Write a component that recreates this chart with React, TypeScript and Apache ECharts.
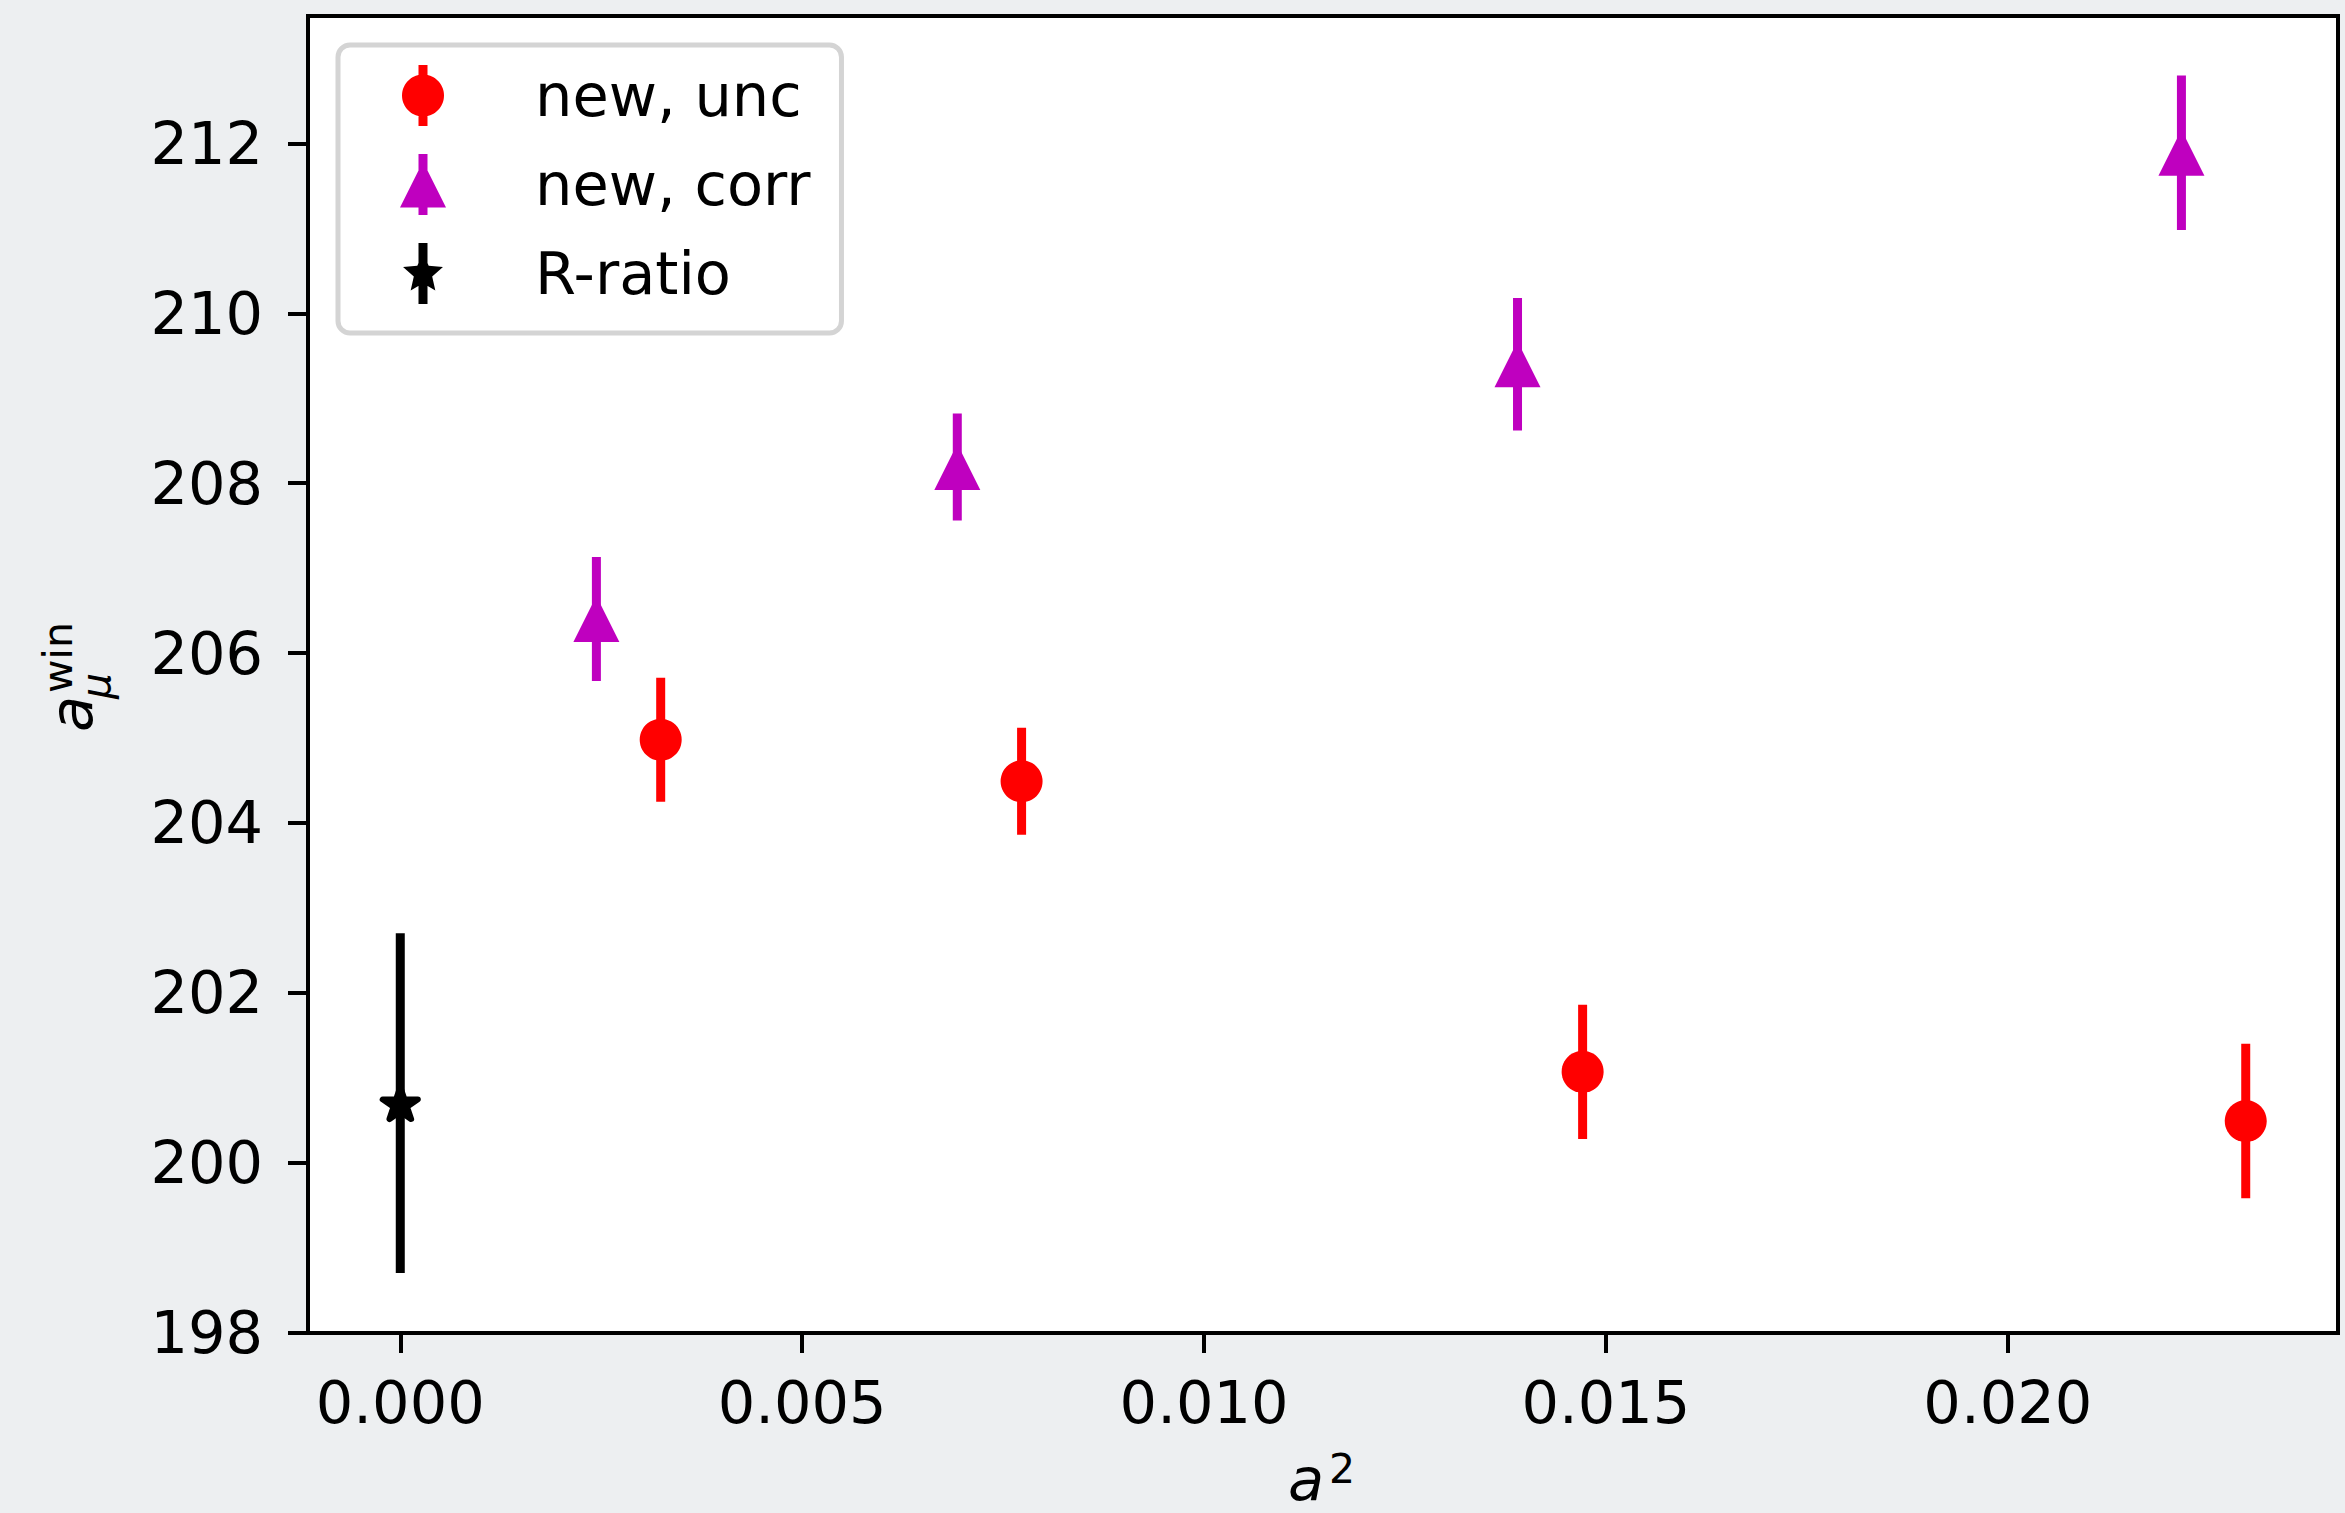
import { useEffect, useRef } from 'react';
import * as echarts from 'echarts';

// ---- data ----
const uncX = [0.00324, 0.00773, 0.01471, 0.02296];
const uncY = [204.98, 204.49, 201.07, 200.49];
const uncErr = [0.73, 0.63, 0.79, 0.91];

const corrX = [0.00244, 0.00693, 0.0139, 0.02216];
const corrY = [206.4, 208.19, 209.4, 211.89];
const corrErr = [0.73, 0.63, 0.78, 0.91];

const rX = [0.0];
const rY = [200.7];
const rErr = [2.0];

const seriesNames = ['new, unc', 'new, corr', 'R-ratio'];

const xTicks = [0, 0.005, 0.01, 0.015, 0.02];
const xTickLabels = ['0.000', '0.005', '0.010', '0.015', '0.020'];
const yTicks = [198, 200, 202, 204, 206, 208, 210, 212];
const yTickLabels = ['198', '200', '202', '204', '206', '208', '210', '212'];

const xRange = [-0.001148, 0.024108];
const yRange = [197.995, 213.5];

// ---- styles ----
const RED = '#ff0000';
const MAG = '#bf00bf';
const BLK = '#000000';
const FONT = 'DejaVu Sans';
const LABEL_SIZE = 59;
const SUB_SIZE = 41;

// shape helpers (marker geometry only)
const pathOf = (polys: number[][][]) =>
  'path://' +
  polys
    .map(
      (pts) =>
        pts.map((p, i) => (i ? 'L' : 'M') + p[0].toFixed(2) + ',' + p[1].toFixed(2)).join(' ') + ' Z'
    )
    .join(' ');

const starPts = (R: number, inner = 0.381966) => {
  const pts: number[][] = [];
  for (let i = 0; i < 10; i++) {
    const a = ((-90 + i * 36) * Math.PI) / 180;
    const r = i % 2 === 0 ? R : R * inner;
    pts.push([r * Math.cos(a), r * Math.sin(a)]);
  }
  return pts;
};
const circlePts = (R: number) => {
  const pts: number[][] = [];
  for (let i = 0; i < 72; i++) {
    const a = ((-90 + i * 5) * Math.PI) / 180;
    pts.push([R * Math.cos(a), R * Math.sin(a)]);
  }
  return pts;
};
const triPts = (h: number) => [
  [0, -h],
  [h, h],
  [-h, h],
];
const barPts = (w: number, h: number) => [
  [-w, -h],
  [w, -h],
  [w, h],
  [-w, h],
];

const starSymbol = pathOf([starPts(19.5)]);
const iconUnc = pathOf([barPts(4.5, 30.5), circlePts(21)]);
const iconCorr = pathOf([barPts(4.5, 30.5), triPts(23)]);
const iconR = pathOf([barPts(4.5, 30.5), starPts(21, 0.46)]);

const labelFor = (ticks: number[], labels: string[]) => (v: number) => {
  const i = ticks.findIndex((t) => Math.abs(t - v) < 1e-9);
  return i >= 0 ? labels[i] : '';
};

const errSeries = (name: string, xs: number[], ys: number[], es: number[], color: string) => ({
  type: 'custom',
  name,
  data: xs.map((x, i) => [x, ys[i], es[i]]),
  encode: { x: 0, y: 1 },
  silent: true,
  z: 2,
  renderItem: (_p: any, api: any) => {
    const x = api.value(0);
    const y = api.value(1);
    const e = api.value(2);
    const p1 = api.coord([x, y + e]);
    const p2 = api.coord([x, y - e]);
    return {
      type: 'line',
      shape: { x1: p1[0], y1: p1[1], x2: p2[0], y2: p2[1] },
      style: { stroke: color, lineWidth: 9, lineCap: 'butt' },
    };
  },
});

const pointSeries = (
  name: string,
  xs: number[],
  ys: number[],
  color: string,
  symbol: string,
  size: number | number[],
  border = 0
) => ({
  type: 'scatter',
  name,
  data: xs.map((x, i) => [x, ys[i]]),
  symbol,
  symbolSize: size,
  symbolKeepAspect: true,
  itemStyle: {
    color,
    opacity: 1,
    borderWidth: border,
    borderColor: color,
    borderJoin: 'round',
  },
  z: 3,
});

export default function App() {
  const ref = useRef<HTMLDivElement>(null);

  useEffect(() => {
    const chart = echarts.init(ref.current!, null, { renderer: 'svg' });
    const axisCommon = {
      type: 'value',
      axisLine: { show: true, onZero: false, lineStyle: { color: '#000', width: 4 } },
      splitLine: { show: false },
    };
    const option: any = {
      animation: false,
      backgroundColor: '#edeff1',
      textStyle: { fontFamily: FONT },
      grid: {
        left: 308,
        top: 16,
        right: 7,
        bottom: 180,
        containLabel: false,
        show: true,
        backgroundColor: '#ffffff',
        borderColor: '#000',
        borderWidth: 4,
      },
      xAxis: {
        ...axisCommon,
        min: xRange[0],
        max: xRange[1],
        axisTick: {
          show: true,
          length: 20,
          lineStyle: { color: '#000', width: 4 },
          customValues: xTicks,
        },
        axisLabel: {
          show: true,
          customValues: xTicks,
          formatter: labelFor(xTicks, xTickLabels),
          fontSize: LABEL_SIZE,
          fontFamily: FONT,
          color: '#000',
          margin: 40,
        },
      },
      yAxis: {
        ...axisCommon,
        min: yRange[0],
        max: yRange[1],
        axisTick: {
          show: true,
          length: 20,
          lineStyle: { color: '#000', width: 4 },
          customValues: yTicks,
        },
        axisLabel: {
          show: true,
          customValues: yTicks,
          formatter: labelFor(yTicks, yTickLabels),
          fontSize: LABEL_SIZE,
          fontFamily: FONT,
          color: '#000',
          margin: 45,
        },
      },
      legend: {
        orient: 'vertical',
        left: 338,
        top: 45,
        padding: [20, 31, 29, 62],
        itemWidth: 50,
        itemHeight: 61,
        itemGap: 28,
        symbolKeepAspect: true,
        backgroundColor: '#ffffff',
        borderColor: '#d4d4d4',
        borderWidth: 5,
        borderRadius: 12,
        selectedMode: false,
        itemStyle: { borderWidth: 0 },
        textStyle: {
          fontSize: LABEL_SIZE,
          fontFamily: FONT,
          color: '#000',
          lineHeight: 61,
          padding: [0, 0, 0, 82],
        },
        data: [
          { name: seriesNames[0], icon: iconUnc },
          { name: seriesNames[1], icon: iconCorr },
          { name: seriesNames[2], icon: iconR },
        ],
      },
      graphic: [
        {
          type: 'group',
          x: 92,
          y: 730,
          rotation: Math.PI / 2,
          silent: true,
          children: [
            {
              type: 'text',
              x: -2,
              y: -0.346 * LABEL_SIZE,
              style: {
                text: 'a',
                fontSize: LABEL_SIZE,
                fontStyle: 'italic',
                fontFamily: FONT,
                fill: '#000',
                align: 'left',
                verticalAlign: 'middle',
              },
            },
            {
              type: 'text',
              x: 31,
              y: 18.5 - 0.346 * SUB_SIZE,
              style: {
                text: 'μ',
                fontSize: SUB_SIZE,
                fontStyle: 'italic',
                fontFamily: FONT,
                fill: '#000',
                align: 'left',
                verticalAlign: 'middle',
              },
            },
            {
              type: 'text',
              x: 37,
              y: -20 - 0.346 * SUB_SIZE,
              style: {
                text: 'win',
                fontSize: SUB_SIZE,
                fontFamily: FONT,
                fill: '#000',
                align: 'left',
                verticalAlign: 'middle',
              },
            },
          ],
        },
        {
          type: 'text',
          x: 1288,
          y: 1500 - 0.346 * LABEL_SIZE,
          silent: true,
          style: {
            text: 'a',
            fontSize: LABEL_SIZE,
            fontStyle: 'italic',
            fontFamily: FONT,
            fill: '#000',
            align: 'left',
            verticalAlign: 'middle',
          },
        },
        {
          type: 'text',
          x: 1329,
          y: 1483 - 0.346 * SUB_SIZE,
          silent: true,
          style: {
            text: '2',
            fontSize: SUB_SIZE,
            fontFamily: FONT,
            fill: '#000',
            align: 'left',
            verticalAlign: 'middle',
          },
        },
      ],
      series: [
        errSeries(seriesNames[0] + ' error', uncX, uncY, uncErr, RED),
        errSeries(seriesNames[1] + ' error', corrX, corrY, corrErr, MAG),
        errSeries(seriesNames[2] + ' error', rX, rY, rErr, BLK),
        pointSeries(seriesNames[0], uncX, uncY, RED, 'circle', 42),
        pointSeries(seriesNames[1], corrX, corrY, MAG, 'triangle', [46, 46]),
        pointSeries(seriesNames[2], rX, rY, BLK, starSymbol, [35, 33.3], 6),
      ],
    };
    chart.setOption(option);
    return () => chart.dispose();
  }, []);

  return (
    <div
      ref={ref}
      style={{ position: 'absolute', left: 0, top: 0, width: 2345, height: 1513 }}
    />
  );
}
